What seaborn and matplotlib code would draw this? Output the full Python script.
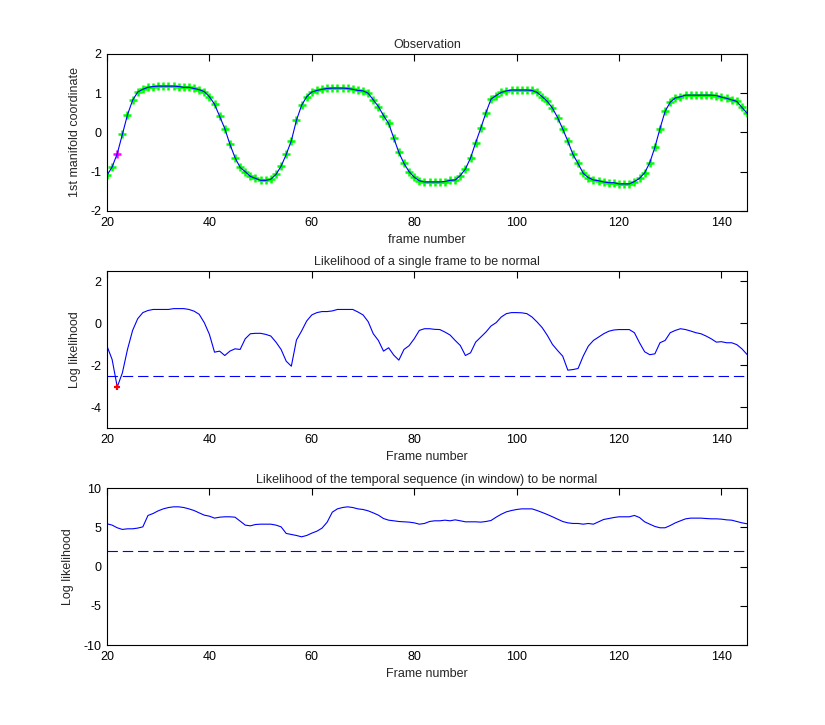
import numpy as np
import pandas as pd
import matplotlib
matplotlib.use("Agg")
import matplotlib.pyplot as plt
import seaborn as sns

frames = list(range(20, 146))

observation = [
    -1.09, -0.88, -0.54, -0.05, 0.45, 0.82, 1.03, 1.10, 1.15, 1.17,
    1.18, 1.18, 1.18, 1.18, 1.17, 1.15, 1.15, 1.12, 1.09, 1.04,
    0.91, 0.72, 0.41, 0.10, -0.30, -0.64, -0.89, -1.00, -1.12, -1.17,
    -1.22, -1.22, -1.19, -1.07, -0.86, -0.56, -0.21, 0.31, 0.69, 0.91,
    1.03, 1.07, 1.10, 1.12, 1.13, 1.13, 1.13, 1.12, 1.10, 1.07,
    1.06, 1.00, 0.83, 0.66, 0.43, 0.23, -0.14, -0.51, -0.79, -1.00,
    -1.14, -1.23, -1.26, -1.26, -1.26, -1.26, -1.25, -1.22, -1.21, -1.10,
    -0.93, -0.65, -0.26, 0.11, 0.50, 0.85, 0.94, 1.02, 1.06, 1.08,
    1.08, 1.08, 1.08, 1.07, 1.02, 0.91, 0.79, 0.62, 0.38, 0.09,
    -0.22, -0.56, -0.79, -1.04, -1.15, -1.21, -1.23, -1.26, -1.28, -1.28,
    -1.31, -1.31, -1.31, -1.25, -1.17, -1.03, -0.77, -0.38, 0.10, 0.54,
    0.77, 0.88, 0.91, 0.95, 0.95, 0.95, 0.95, 0.95, 0.95, 0.94,
    0.90, 0.87, 0.83, 0.79, 0.64, 0.49,
]

frame_loglik = [
    -1.09, -1.73, -3.04, -2.37, -1.25, -0.34, 0.22, 0.51, 0.61, 0.66,
    0.66, 0.66, 0.66, 0.70, 0.70, 0.70, 0.66, 0.58, 0.43, 0.03,
    -0.53, -1.38, -1.33, -1.54, -1.33, -1.22, -1.25, -0.74, -0.50, -0.48,
    -0.48, -0.53, -0.61, -0.90, -1.25, -1.81, -2.05, -0.80, -0.37, 0.11,
    0.40, 0.51, 0.56, 0.56, 0.59, 0.66, 0.66, 0.66, 0.66, 0.54,
    0.40, 0.08, -0.50, -0.82, -1.33, -1.17, -1.52, -1.76, -1.25, -1.07,
    -0.74, -0.34, -0.26, -0.26, -0.29, -0.30, -0.42, -0.56, -0.82, -1.06,
    -1.54, -1.41, -0.90, -0.66, -0.42, -0.13, 0.03, 0.30, 0.46, 0.51,
    0.51, 0.50, 0.46, 0.30, 0.06, -0.21, -0.58, -1.01, -1.30, -1.57,
    -2.24, -2.21, -2.16, -1.57, -1.09, -0.82, -0.66, -0.50, -0.38, -0.32,
    -0.30, -0.30, -0.30, -0.45, -0.93, -1.36, -1.50, -1.46, -0.93, -0.82,
    -0.45, -0.34, -0.26, -0.30, -0.37, -0.45, -0.50, -0.61, -0.74, -0.90,
    -0.88, -0.93, -0.93, -1.02, -1.22, -1.49,
]

window_loglik = [
    5.47, 5.30, 4.96, 4.75, 4.83, 4.83, 4.92, 5.08, 6.53, 6.78,
    7.12, 7.37, 7.54, 7.63, 7.63, 7.54, 7.37, 7.16, 6.86, 6.57,
    6.44, 6.19, 6.31, 6.36, 6.36, 6.31, 5.81, 5.30, 5.21, 5.38,
    5.42, 5.42, 5.42, 5.30, 5.08, 4.24, 4.11, 3.98, 3.81, 3.98,
    4.28, 4.53, 4.92, 5.68, 6.95, 7.37, 7.54, 7.63, 7.54, 7.37,
    7.29, 7.12, 6.86, 6.57, 6.14, 5.93, 5.85, 5.76, 5.72, 5.68,
    5.59, 5.42, 5.51, 5.76, 5.85, 5.85, 5.93, 5.85, 5.97, 5.85,
    5.72, 5.72, 5.72, 5.68, 5.76, 5.89, 6.31, 6.69, 6.99, 7.16,
    7.29, 7.37, 7.37, 7.37, 7.16, 6.91, 6.65, 6.36, 6.06, 5.76,
    5.59, 5.51, 5.51, 5.42, 5.51, 5.42, 5.72, 6.02, 6.14, 6.27,
    6.36, 6.36, 6.36, 6.53, 6.27, 5.72, 5.42, 5.13, 4.96, 4.96,
    5.25, 5.59, 5.85, 6.10, 6.19, 6.19, 6.19, 6.14, 6.10, 6.10,
    6.06, 5.97, 5.93, 5.76, 5.59, 5.47,
]

anomaly_frames = [22]
frame_threshold = -2.5
window_threshold = 2.0

titles = ["Observation",
          "Likelihood of a single frame to be normal",
          "Likelihood of the temporal sequence (in window) to be normal"]
xlabels = ["frame number", "Frame number", "Frame number"]
ylabels = ["1st manifold coordinate", "Log likelihood", "Log likelihood"]
ylims = [(-2, 2), (-5, 2.5), (-10, 10)]
yticks = [[-2, -1, 0, 1, 2], [-4, -2, 0, 2], [-10, -5, 0, 5, 10]]
xticks = [20, 40, 60, 80, 100, 120, 140]

sns.set_theme(style="white")
plt.rcParams["font.family"] = ["Liberation Sans", "DejaVu Sans"]
plt.rcParams["font.size"] = 9
plt.rcParams["lines.scale_dashes"] = False
plt.rcParams["axes.unicode_minus"] = False

df = pd.DataFrame({"frame": frames, "obs": observation,
                   "flik": frame_loglik, "wlik": window_loglik})
anom = df[df["frame"].isin(anomaly_frames)]
normal = df[~df["frame"].isin(anomaly_frames)]

fig = plt.figure(figsize=(8.25, 7.25), dpi=100)
L, W, H = 0.1297, 0.7758, 0.2166
bottoms = [0.709, 0.4097, 0.110]
axes = [fig.add_axes([L, b, W, H]) for b in bottoms]

blue = (0, 0, 1)

# Top panel
ax = axes[0]
ax.plot(normal["frame"], normal["obs"], linestyle="none", marker="+",
        color=(0, 1, 0), markersize=5.5, markeredgewidth=1.8, zorder=2)
ax.plot(anom["frame"], anom["obs"], linestyle="none", marker="+",
        color=(1, 0, 1), markersize=5.5, markeredgewidth=1.8, zorder=2)
sns.lineplot(data=df, x="frame", y="obs", ax=ax, color=blue, linewidth=0.8, zorder=3)

# Middle panel
ax = axes[1]
sns.lineplot(data=df, x="frame", y="flik", ax=ax, color=blue, linewidth=0.8)
ax.axhline(frame_threshold, color=blue, linewidth=0.8, dashes=(7.5, 3.5))
ax.plot(anom["frame"], anom["flik"], linestyle="none", marker="+",
        color=(1, 0, 0), markersize=5, markeredgewidth=1.6, zorder=4)

# Bottom panel
ax = axes[2]
sns.lineplot(data=df, x="frame", y="wlik", ax=ax, color=blue, linewidth=0.8)
ax.axhline(window_threshold, color=blue, linewidth=0.8, dashes=(7.5, 3.5))

for i, ax in enumerate(axes):
    ax.set_xlim(20, 145)
    ax.set_ylim(*ylims[i])
    ax.set_xticks(xticks)
    ax.set_yticks(yticks[i])
    ax.set_title(titles[i], fontsize=9, pad=4)
    ax.set_xlabel(xlabels[i], fontsize=9, labelpad=4)
    ax.set_ylabel(ylabels[i], fontsize=9, labelpad=7)
    ax.tick_params(direction="in", length=5, width=0.8, top=True, right=True,
                   labelsize=9, pad=4, colors="black")
    for s in ax.spines.values():
        s.set_visible(True)
        s.set_color("black")
        s.set_linewidth(0.8)
    ax.grid(False)
    ax.set_facecolor("white")

fig.savefig("out.png", dpi=100, facecolor="white")
